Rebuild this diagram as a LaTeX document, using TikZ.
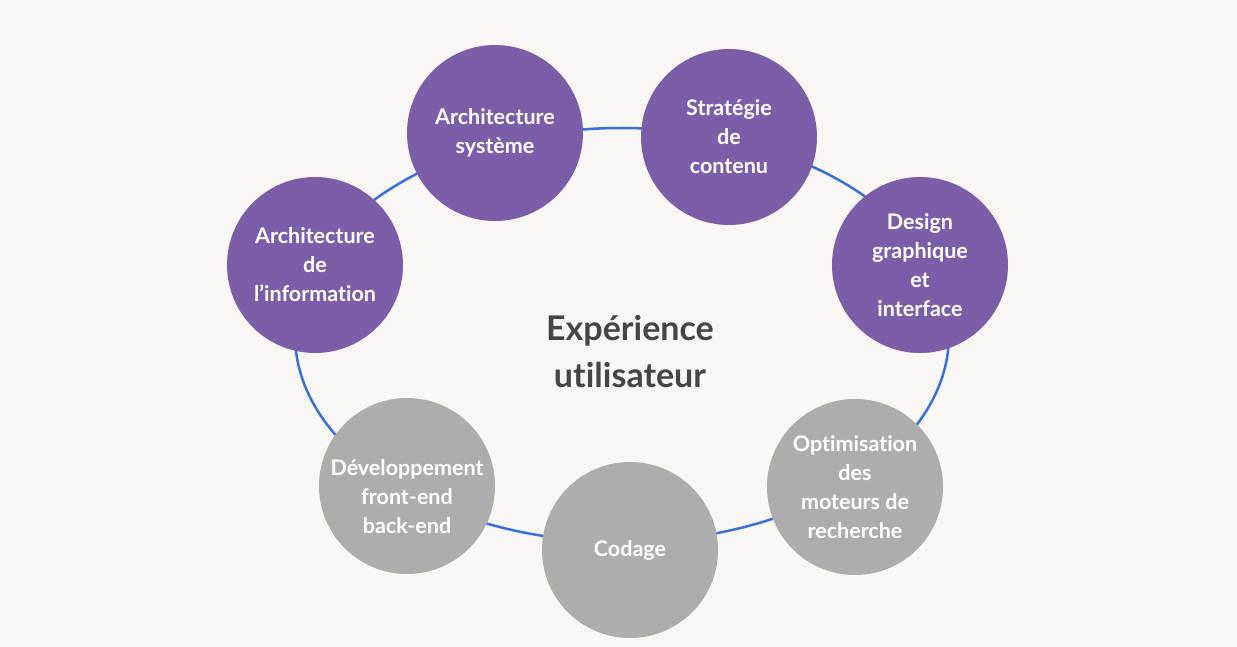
\documentclass[tikz,border=0pt]{standalone}
\usepackage{fontspec}
\setmainfont{Lato}[Ligatures=CommonOff]
\definecolor{bg}{HTML}{F8F7F3}
\definecolor{purp}{HTML}{7B5EA7}
\definecolor{greyc}{HTML}{ADADAD}
\definecolor{ring}{HTML}{3A6FD8}
\definecolor{dark}{HTML}{454545}
\tikzset{
  bubble/.style={circle, minimum size=176pt, inner sep=0pt, align=center,
    text=white, font=\fontsize{21.5}{29}\selectfont\bfseries},
  purpbubble/.style={bubble, fill=purp},
  greybubble/.style={bubble, fill=greyc},
  ringline/.style={draw=ring, line width=2.5pt},
  centertext/.style={align=center, text=dark, font=\fontsize{34}{47}\selectfont\bfseries}
}
\begin{document}
\begin{tikzpicture}[x=1pt, y=-1pt]
\useasboundingbox (0,0) rectangle (1237,647);
\fill[bg] (0,0) rectangle (1237,647);
\draw[ringline] (622,335) ellipse [x radius=327, y radius=207];
\node[purpbubble] (info) at (315,265) {Architecture\\de\\l’information};
\node[purpbubble] (sys) at (495,133) {Architecture\\système};
\node[purpbubble] (strat) at (729,137) {Stratégie\\de\\contenu};
\node[purpbubble] (design) at (920,265) {Design\\graphique\\et\\interface};
\node[greybubble] (optim) at (855,487) {Optimisation\\des\\moteurs de\\recherche};
\node[greybubble] (codage) at (630,550) {Codage};
\node[greybubble] (dev) at (407,486) {};
\node[bubble] (devtext) at (407,497) {Développement\\front-end\\back-end};
\node[centertext] (ux) at (630,352) {Expérience\\utilisateur};
\end{tikzpicture}
\end{document}
